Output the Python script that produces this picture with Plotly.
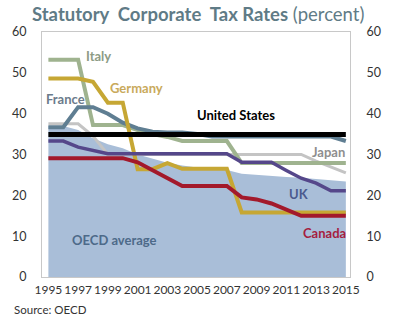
import plotly.graph_objects as go

years = list(range(1995, 2016))
x_ticks = list(range(1995, 2016, 2))
y_ticks = [0, 10, 20, 30, 40, 50, 60]

oecd_avg = [37.0, 37.0, 36.0, 34.0, 32.5, 31.5, 30.0, 29.0, 28.0, 27.3, 26.8,
            26.5, 26.2, 25.3, 25.0, 24.8, 24.5, 24.3, 24.0, 23.7, 23.4]
japan = [37.5, 37.5, 37.5, 34.5, 30.0, 30.0, 30.0, 30.0, 30.0, 30.0, 30.0,
         30.0, 30.0, 30.0, 30.0, 30.0, 30.0, 30.0, 28.4, 27.0, 25.5]
italy = [53.2, 53.2, 53.2, 37.2, 37.2, 37.2, 36.0, 35.0, 34.3, 33.3, 33.3,
         33.3, 33.3, 27.9, 27.9, 27.9, 27.9, 27.9, 27.9, 27.9, 27.9]
france = [36.7, 36.7, 41.6, 41.6, 40.0, 37.8, 36.4, 35.6, 35.4, 35.4, 35.0,
          34.4, 34.4, 34.4, 34.4, 34.4, 34.4, 34.4, 34.4, 34.4, 33.3]
germany = [48.6, 48.6, 48.6, 47.8, 42.7, 42.7, 26.4, 26.4, 27.9, 26.5, 26.5,
           26.5, 26.5, 15.8, 15.8, 15.8, 15.8, 15.8, 15.8, 15.8, 15.8]
canada = [29.1, 29.1, 29.1, 29.1, 29.1, 29.1, 28.1, 26.1, 24.1, 22.3, 22.3,
          22.3, 22.3, 19.5, 19.0, 18.0, 16.5, 15.0, 15.0, 15.0, 15.0]
uk = [33.3, 33.3, 31.8, 31.0, 30.2, 30.2, 30.2, 30.2, 30.2, 30.2, 30.2,
      30.2, 30.2, 28.1, 28.1, 28.1, 26.1, 24.2, 23.0, 21.1, 21.1]
us = [34.9] * 21

series = [
    ("Japan", japan, "#c4c4c4", 3),
    ("Italy", italy, "#9fb38f", 4),
    ("France", france, "#5f7e92", 4),
    ("Germany", germany, "#c6a734", 4),
    ("Canada", canada, "#a3192b", 4),
    ("UK", uk, "#55478a", 3.5),
    ("United States", us, "#000000", 5),
]

labels = [
    ("Italy", 1998.34, 54.1, "#8d9b85"),
    ("Germany", 2000.9, 46.2, "#c9aa5c"),
    ("France", 1996.18, 43.5, "#6b7b8b"),
    ("United States", 2007.63, 39.6, "#000000"),
    ("Japan", 2013.86, 30.7, "#8e8e8e"),
    ("UK", 2011.83, 20.4, "#4b5a8e"),
    ("Canada", 2013.54, 10.8, "#a51d3f"),
    ("OECD average", 1999.47, 9.1, "#4d6a89"),
]

fig = go.Figure()
fig.add_trace(go.Scatter(x=years, y=oecd_avg, mode="lines", fill="tozeroy",
                         fillcolor="#a9bed8", line=dict(width=0, color="#a9bed8"),
                         hoverinfo="skip", showlegend=False))
for name, vals, color, w in series:
    fig.add_trace(go.Scatter(x=years, y=vals, mode="lines", name=name,
                             line=dict(color=color, width=w), showlegend=False))
# right axis dummy
fig.add_trace(go.Scatter(x=[years[0]], y=[0], yaxis="y2", mode="markers",
                         marker=dict(opacity=0), hoverinfo="skip", showlegend=False))

for text, lx, ly, c in labels:
    fig.add_annotation(x=lx, y=ly, text="<b>%s</b>" % text, showarrow=False,
                       font=dict(family="Lato", size=13, color=c),
                       xanchor="center", yanchor="middle")

fig.add_annotation(xref="paper", yref="paper", x=-31 / 321, y=-32 / 245,
                   text="Source: OECD", showarrow=False, xanchor="left", yanchor="middle",
                   font=dict(family="Lato", size=11.5, color="#333333"))

tickfont = dict(family="Lato", size=12.5, color="#333333")
fig.update_layout(
    width=393, height=326,
    margin=dict(l=35, r=37, t=32, b=49),
    paper_bgcolor="white", plot_bgcolor="white",
    title=dict(text="<b>Statutory  Corporate  Tax Rates</b> (percent)",
               x=32 / 393, xanchor="left", xref="container",
               y=1 - 15 / 326, yanchor="middle", yref="container",
               font=dict(family="Lato", size=18.5, color="#5f7b86")),
    xaxis=dict(range=[1994.57, 2015.28], tickvals=x_ticks, ticktext=[str(v) for v in x_ticks],
               tickangle=0,
               showgrid=False, zeroline=False, showline=True, linecolor="#c8c8c8",
               linewidth=1, mirror=True, ticks="outside", ticklen=2,
               tickcolor="rgba(0,0,0,0)", tickfont=dict(family="Lato", size=12, color="#333333")),
    yaxis=dict(range=[0, 60], tickvals=y_ticks, showgrid=False, zeroline=False,
               showline=True, linecolor="#c8c8c8", linewidth=1, mirror=True,
               ticks="outside", ticklen=12, tickcolor="rgba(0,0,0,0)", tickfont=tickfont),
    yaxis2=dict(range=[0, 60], tickvals=y_ticks, overlaying="y", side="right",
                showgrid=False, zeroline=False, showline=False,
                ticks="outside", ticklen=13, tickcolor="rgba(0,0,0,0)", tickfont=tickfont),
)

fig.write_html("out.html")
